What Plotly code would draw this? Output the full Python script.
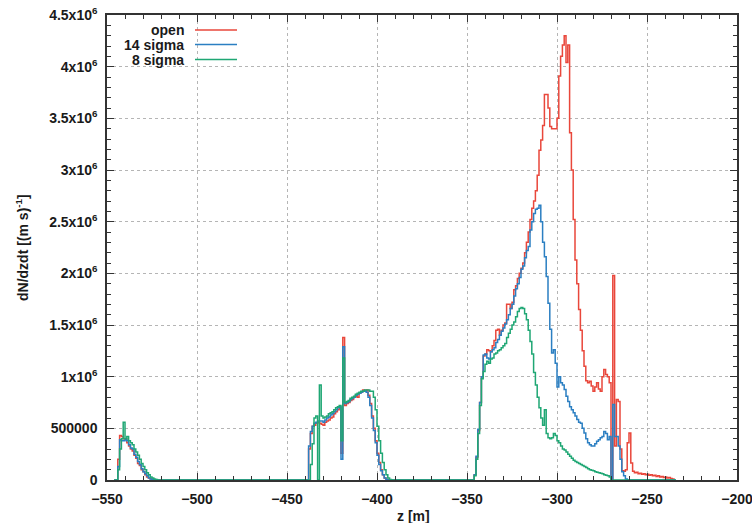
import plotly.graph_objects as go

# ---------------- data (dN/dzdt in units of 1e6 per (m s), 1 m bins) ----------------
SERIES_NAMES = ["open", "14 sigma", "8 sigma"]
COLORS = ["#e9473b", "#2b7fc2", "#1fa774"]

# bin left edges of the three populated z regions [m]
SEG1_Z = list(range(-546, -521))
SEG2_Z = list(range(-440, -391))
SEG3_Z = list(range(-347, -234))

# region 1 (-546 .. -522)
SEG1_OPEN = [0, 0, 0.20, 0.43, 0.42, 0.40, 0.40, 0.36, 0.33, 0.30, 0.28, 0.24, 0.21,
             0.16, 0.14, 0.10, 0.08, 0.05, 0.03, 0.02, 0.01, 0.005, 0, 0, 0]
SEG1_S14 = [0, 0, 0.13, 0.39, 0.38, 0.38, 0.39, 0.38, 0.34, 0.31, 0.30, 0.25, 0.22,
            0.18, 0.15, 0.11, 0.08, 0.06, 0.04, 0.02, 0.01, 0.005, 0, 0, 0]
SEG1_S8 = [0, 0, 0.10, 0.30, 0.40, 0.56, 0.40, 0.42, 0.38, 0.36, 0.34, 0.30, 0.27,
           0.24, 0.20, 0.16, 0.13, 0.10, 0.07, 0.05, 0.03, 0.02, 0.01, 0.005, 0]

# region 2 (-440 .. -392)
SEG2_OPEN = [0, 0, 0.30, 0.45, 0.52, 0.53, 0.55, 0.56, 0.55, 0.54, 0.53, 0.56, 0.57,
             0.58, 0.60, 0.61, 0.64, 0.66, 0.68, 0.70, 0.26, 1.38, 0.72, 0.74, 0.75,
             0.77, 0.78, 0.80, 0.81, 0.80, 0.84, 0.85, 0.87, 0.86, 0.87, 0.82, 0.74,
             0.62, 0.50, 0.38, 0.26, 0.17, 0.10, 0.05, 0.02, 0.005, 0, 0, 0]
SEG2_S14 = [0, 0, 0.33, 0.47, 0.52, 0.55, 0.56, 0.57, 0.57, 0.57, 0.56, 0.58, 0.60,
            0.61, 0.63, 0.64, 0.66, 0.68, 0.70, 0.71, 0.20, 1.29, 0.74, 0.75, 0.76,
            0.78, 0.79, 0.80, 0.82, 0.83, 0.84, 0.85, 0.86, 0.86, 0.85, 0.80, 0.72,
            0.60, 0.48, 0.36, 0.24, 0.15, 0.09, 0.05, 0.02, 0.005, 0, 0, 0]
SEG2_S8 = [0, 0, 0, 0.15, 0.35, 0.60, 0.62, 0, 0.92, 0.62, 0.60, 0.61, 0.62,
           0.64, 0.65, 0.66, 0.68, 0.70, 0.71, 0.72, 0.38, 1.18, 0.75, 0.76, 0.77,
           0.79, 0.80, 0.81, 0.83, 0.84, 0.85, 0.86, 0.86, 0.87, 0.87, 0.87, 0.86,
           0.86, 0.80, 0.68, 0.52, 0.38, 0.26, 0.17, 0.10, 0.05, 0.02, 0.005, 0]

# region 3 (-347 .. -235)
SEG3_OPEN = [0, 0.05, 0.22, 0.48, 0.75, 1.00, 1.20, 1.22, 1.26, 1.25, 1.24, 1.30, 1.35,
             1.45, 1.46, 1.40, 1.45, 1.50, 1.52, 1.70, 1.70, 1.66, 1.72, 1.84, 1.88,
             1.95, 2.00, 2.05, 2.10, 2.20, 2.30, 2.40, 2.52, 2.63, 2.70, 2.80, 2.95,
             3.19, 3.29, 3.43, 3.73, 3.73, 3.60, 3.42, 3.40, 3.40, 3.40, 3.50, 3.91,
             4.10, 4.21, 4.30, 4.04, 4.21, 3.36, 3.00, 2.52, 2.13, 1.90, 1.65, 1.45,
             1.25, 1.10, 0.96, 0.94, 0.955, 0.91, 0.86, 0.90, 0.94, 0.88, 0.86, 1.00,
             1.07, 1.02, 1.00, 0.94, 0, 1.98, 0.33, 0.78, 0.76, 0.30, 0.09, 0.085,
             0.10, 0.36, 0.455, 0.165, 0.085, 0.07, 0.075, 0.06, 0.065, 0.055, 0.06,
             0.05, 0.055, 0.045, 0.05, 0.04, 0.045, 0.035, 0.04, 0.03, 0.035, 0.025,
             0.03, 0.02, 0.025, 0.015, 0.01, 0]
SEG3_S14 = [0, 0.05, 0.23, 0.49, 0.75, 1.00, 1.21, 1.22, 1.18, 1.17, 1.24, 1.26, 1.28,
            1.33, 1.36, 1.40, 1.44, 1.47, 1.51, 1.55, 1.60, 1.66, 1.70, 1.78, 1.85,
            1.90, 1.96, 2.04, 2.07, 2.15, 2.22, 2.26, 2.42, 2.50, 2.58, 2.62, 2.63,
            2.66, 2.50, 2.30, 2.16, 1.97, 1.71, 1.46, 1.23, 1.26, 1.13, 0.90, 1.00,
            0.94, 0.92, 0.875, 0.81, 0.76, 0.71, 0.68, 0.65, 0.62, 0.585, 0.56, 0.55,
            0.50, 0.455, 0.40, 0.36, 0.34, 0.33, 0.33, 0.35, 0.375, 0.39, 0.41, 0.42,
            0.47, 0.45, 0.39, 0.42, 0, 0.73, 0.42, 0.42, 0.33, 0.20, 0.08, 0.04,
            0.01, 0, 0, 0, 0, 0, 0, 0, 0, 0, 0,
            0, 0, 0, 0, 0, 0, 0, 0, 0, 0, 0,
            0, 0, 0, 0, 0, 0]
SEG3_S8 = [0, 0.04, 0.20, 0.45, 0.72, 0.98, 1.05, 1.12, 1.15, 1.13, 1.17, 1.18, 1.22,
           1.23, 1.25, 1.26, 1.28, 1.30, 1.32, 1.38, 1.42, 1.46, 1.50, 1.53, 1.58,
           1.63, 1.66, 1.67, 1.66, 1.61, 1.55, 1.45, 1.34, 1.22, 1.04, 0.92, 0.80,
           0.70, 0.60, 0.53, 0.68, 0.45, 0.41, 0.40, 0.41, 0.45, 0.43, 0.38, 0.36,
           0.33, 0.30, 0.29, 0.27, 0.25, 0.23, 0.21, 0.19, 0.18, 0.17, 0.16, 0.15,
           0.14, 0.13, 0.12, 0.11, 0.10, 0.095, 0.09, 0.08, 0.075, 0.07, 0.065, 0.06,
           0.05, 0.045, 0.04, 0.03, 0, 0, 0, 0, 0, 0, 0, 0,
           0, 0, 0, 0, 0, 0, 0, 0, 0, 0, 0,
           0, 0, 0, 0, 0, 0, 0, 0, 0, 0, 0,
           0, 0, 0, 0, 0, 0]

SERIES = [
    [SEG1_OPEN, SEG2_OPEN, SEG3_OPEN],
    [SEG1_S14, SEG2_S14, SEG3_S14],
    [SEG1_S8, SEG2_S8, SEG3_S8],
]
SEGMENT_EDGES = [SEG1_Z, SEG2_Z, SEG3_Z]

X_TICKS = [-550, -500, -450, -400, -350, -300, -250, -200]
Y_TICKS = [0, 0.5, 1, 1.5, 2, 2.5, 3, 3.5, 4, 4.5]
Y_TICK_TEXT = ["0", "500000", "1x10<sup>6</sup>", "1.5x10<sup>6</sup>", "2x10<sup>6</sup>",
               "2.5x10<sup>6</sup>", "3x10<sup>6</sup>", "3.5x10<sup>6</sup>",
               "4x10<sup>6</sup>", "4.5x10<sup>6</sup>"]


def steps(edges_list, values_list):
    xs, ys = [], []
    for edges, vals in zip(edges_list, values_list):
        xs += edges + [edges[-1] + 1]
        ys += vals + [vals[-1]]
    return xs, ys


FONT = dict(family="Liberation Sans, Arial, sans-serif", size=14, color="#1a1a1a", weight="bold")

fig = go.Figure()
for name, color, segs in zip(SERIES_NAMES, COLORS, SERIES):
    xs, ys = steps(SEGMENT_EDGES, segs)
    fig.add_trace(go.Scatter(x=xs, y=ys, mode="lines", name=name,
                             line=dict(color=color, width=1.5, shape="hv"),
                             showlegend=False, hoverinfo="skip"))

axis_common = dict(showline=True, mirror="ticks", linecolor="#333333", linewidth=1.5,
                   ticks="inside", ticklen=7, tickwidth=1, tickcolor="#333333",
                   showgrid=True, gridcolor="#b5b5b5", griddash="dot", gridwidth=1,
                   zeroline=False, tickfont=FONT, layer="above traces",
                   ticklabeloverflow="allow")

fig.update_xaxes(range=[-550, -200], tickvals=X_TICKS,
                 minor=dict(dtick=10, ticks="inside", ticklen=4, tickcolor="#333333", showgrid=False),
                 ticklabelstandoff=5, **axis_common)
fig.update_yaxes(range=[0, 4.5], tickvals=Y_TICKS, ticktext=Y_TICK_TEXT,
                 minor=dict(dtick=0.1, ticks="inside", ticklen=4, tickcolor="#333333", showgrid=False),
                 ticklabelstandoff=5, **axis_common)

# plot-area geometry in pixels for legend / titles
L, R, T, B = 107, 15, 15, 43
W, H = 752, 523
PW, PH = W - L - R, H - T - B


def px_x(px):
    return (px - L) / PW


def px_y(py):
    return (H - B - py) / PH


annotations = [
    dict(text="z [m]", x=px_x(413), y=px_y(506), xref="paper", yref="paper",
         xanchor="center", yanchor="top", showarrow=False, font=FONT),
    dict(text="dN/dzdt [(m s)<sup>-1</sup>]", x=px_x(22), y=px_y(248), xref="paper", yref="paper",
         xanchor="center", yanchor="middle", textangle=-90, showarrow=False, font=FONT),
]
shapes = []
legend_rows = [30, 44.5, 59.5]
for name, color, row in zip(SERIES_NAMES, COLORS, legend_rows):
    annotations.append(dict(text=name, x=px_x(186), y=px_y(row), xref="paper", yref="paper",
                            xanchor="right", yanchor="middle", showarrow=False, font=FONT))
    shapes.append(dict(type="line", xref="paper", yref="paper", x0=px_x(195), x1=px_x(237),
                       y0=px_y(row), y1=px_y(row), line=dict(color=color, width=1.5)))

fig.update_layout(width=W, height=H, margin=dict(l=L, r=R, t=T, b=B, autoexpand=False),
                  paper_bgcolor="white", plot_bgcolor="white",
                  annotations=annotations, shapes=shapes, showlegend=False)

fig.write_html("out.html", config={"displayModeBar": False},
               post_script="document.body.style.margin='0';document.body.style.padding='0';"
                           "document.body.style.overflow='hidden';")
